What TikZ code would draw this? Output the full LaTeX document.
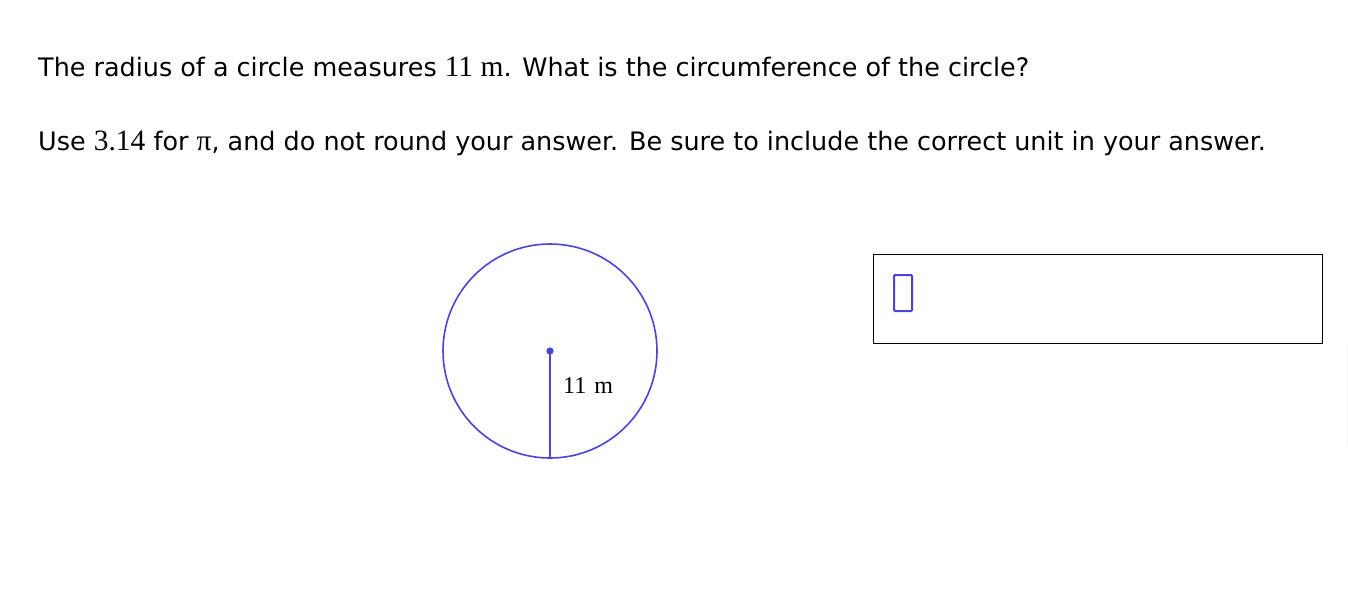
\documentclass[tikz,border=0pt]{standalone}
\usepackage{fontspec}
\setmainfont{DejaVu Sans}
\newfontfamily\serifm{Liberation Serif}
\definecolor{cblue}{RGB}{76,68,216}
\begin{document}
\begin{tikzpicture}[x=1pt,y=-1pt,
  qtext/.style={anchor=base west,inner sep=0pt,font=\fontsize{25.45}{28}\selectfont},
  blueline/.style={draw=cblue,line width=1.6pt}]
\useasboundingbox[fill=white] (0,0) rectangle (1348,598);
\node[qtext] (l1) at (38,76) {The radius of a circle measures {\serifm\fontsize{29.5}{30}\selectfont 11 m}. What is the circumference of the circle?};
\node[qtext] (l2) at (38,150) {Use {\serifm\fontsize{29.5}{30}\selectfont 3.14} for {\serifm\fontsize{29.5}{30}\selectfont π}, and do not round your answer. Be sure to include the correct unit in your answer.};
\coordinate (c) at (550,351);
\node[circle,blueline,minimum size=214pt,inner sep=0pt] (circ) at (c) {};
\draw[blueline] (c) -- (circ.south);
\fill[cblue] (c) circle (3.6pt);
\node[anchor=base west,inner sep=0pt,font=\serifm\fontsize{24}{26}\selectfont] (lab) at (563,393) {11\,\,m};
\node[draw=black,line width=0.8pt,minimum width=449pt,minimum height=89pt,inner sep=0pt,anchor=north west] (box) at (873,254) {};
\node[draw=cblue,line width=2pt,rounded corners=1pt,minimum width=18pt,minimum height=36pt,inner sep=0pt,anchor=north west] (cursor) at (893,274) {};
\draw[gray!8,line width=1pt] (1347,345) -- (1347,445);
\end{tikzpicture}
\end{document}
